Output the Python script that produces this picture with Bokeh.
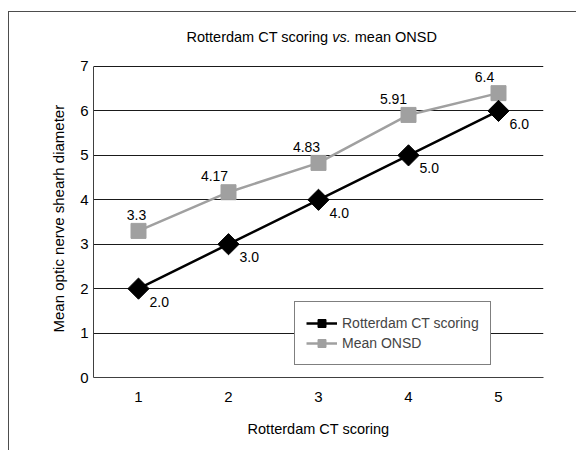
import numpy as np
from bokeh.plotting import figure
from bokeh.models import ColumnDataSource, LabelSet, Label, Legend, LegendItem, FixedTicker, Range1d
from bokeh.core.properties import value
from bokeh.embed import file_html
from bokeh.resources import INLINE

# ---- data ----
scores = [1, 2, 3, 4, 5]
rotterdam = [2.0, 3.0, 4.0, 5.0, 6.0]
onsd = [3.3, 4.17, 4.83, 5.91, 6.4]
onsd_text = ["3.3", "4.17", "4.83", "5.91", "6.4"]
y_ticks = [0, 1, 2, 3, 4, 5, 6, 7]

# label nudges (style only)
onsd_dx = [-2, -14, -12, -15, -14]

FONT = "Liberation Sans"
GRAY = "#a0a0a0"

p = figure(width=568, height=439, output_backend="svg", toolbar_location=None,
           x_range=Range1d(0.5, 5.5), y_range=Range1d(0, 7.9),
           min_border_left=84, min_border_right=34, min_border_top=14, min_border_bottom=74)
p.styles = {"border-top": "1px solid #4d4d4d", "border-left": "1px solid #4d4d4d",
            "margin-top": "11px", "margin-left": "8px"}
p.outline_line_color = None
p.background_fill_color = "white"
p.border_fill_color = "white"

# axes
p.xaxis.ticker = FixedTicker(ticks=scores)
p.yaxis.ticker = FixedTicker(ticks=y_ticks)
p.yaxis.bounds = (0, 7)
for ax in (p.xaxis[0], p.yaxis[0]):
    ax.major_tick_in = 0
    ax.major_tick_out = 0
    ax.minor_tick_in = 0
    ax.minor_tick_out = 0
    ax.axis_line_color = "#404040"
    ax.axis_line_width = 1
    ax.major_label_text_font = FONT
    ax.major_label_text_font_size = "15px"
    ax.major_label_text_color = "black"
    ax.axis_label_text_font = FONT
    ax.axis_label_text_font_style = "normal"
    ax.axis_label_text_color = "black"
p.xaxis.axis_label_text_font_size = "14.5px"
p.yaxis.axis_label_text_font_size = "15px"
p.xaxis.axis_label = "Rotterdam CT scoring"
# trailing no-break spaces keep the label centred on the 0-7 part of the axis
p.yaxis.axis_label = "Mean optic nerve shearh diameter" + "\u00a0" * 8
p.xaxis.major_label_standoff = 14
p.yaxis.major_label_standoff = 5
p.xaxis.axis_label_standoff = 16
p.yaxis.axis_label_standoff = 10
p.xgrid.grid_line_color = None
p.ygrid.ticker = FixedTicker(ticks=y_ticks)
p.ygrid.grid_line_color = "#1a1a1a"
p.ygrid.grid_line_width = 1

src = ColumnDataSource(dict(x=scores, r=rotterdam, o=onsd,
                            rt=[f"{v:.1f}" for v in rotterdam], ot=onsd_text, odx=onsd_dx))

l2 = p.line("x", "o", source=src, line_color=GRAY, line_width=2.5)
m2 = p.scatter("x", "o", source=src, marker="square", size=15, fill_color=GRAY, line_color=GRAY)
l1 = p.line("x", "r", source=src, line_color="black", line_width=2.5)
m1 = p.scatter("x", "r", source=src, marker="square", angle=np.pi / 4, size=15,
               fill_color="black", line_color="black")

p.add_layout(LabelSet(x="x", y="r", text="rt", source=src, x_offset=11, y_offset=-13,
                      text_align="left", text_baseline="middle",
                      text_font=value(FONT), text_font_size="14px", text_color="black"))
p.add_layout(LabelSet(x="x", y="o", text="ot", source=src, x_offset="odx", y_offset=16,
                      text_align="center", text_baseline="middle",
                      text_font=value(FONT), text_font_size="14px", text_color="black"))

# title with italic "vs."
tkw = dict(y=7.664, text_baseline="middle", text_font=FONT, text_font_size="14.5px", text_color="black")
p.add_layout(Label(x=3.109, text="Rotterdam CT scoring", text_align="right", **tkw))
p.add_layout(Label(x=3.153, text="vs.", text_align="left", text_font_style="italic", **tkw))
p.add_layout(Label(x=3.403, text="mean ONSD", text_align="left", **tkw))

legend = Legend(items=[LegendItem(label="Rotterdam CT scoring", renderers=[l1, m1]),
                       LegendItem(label="Mean ONSD", renderers=[l2, m2])],
                location=(201, 12), orientation="vertical")
legend.label_text_font = FONT
legend.label_text_font_size = "14px"
legend.glyph_width = 31
legend.glyph_height = 20
legend.label_height = 20
legend.label_standoff = 5
legend.spacing = 0
legend.padding = 11
legend.margin = 0
legend.border_line_color = "black"
legend.border_line_width = 1
legend.background_fill_color = "white"
legend.background_fill_alpha = 1
p.add_layout(legend, "center")

open("out.html", "w").write(file_html(p, INLINE))
